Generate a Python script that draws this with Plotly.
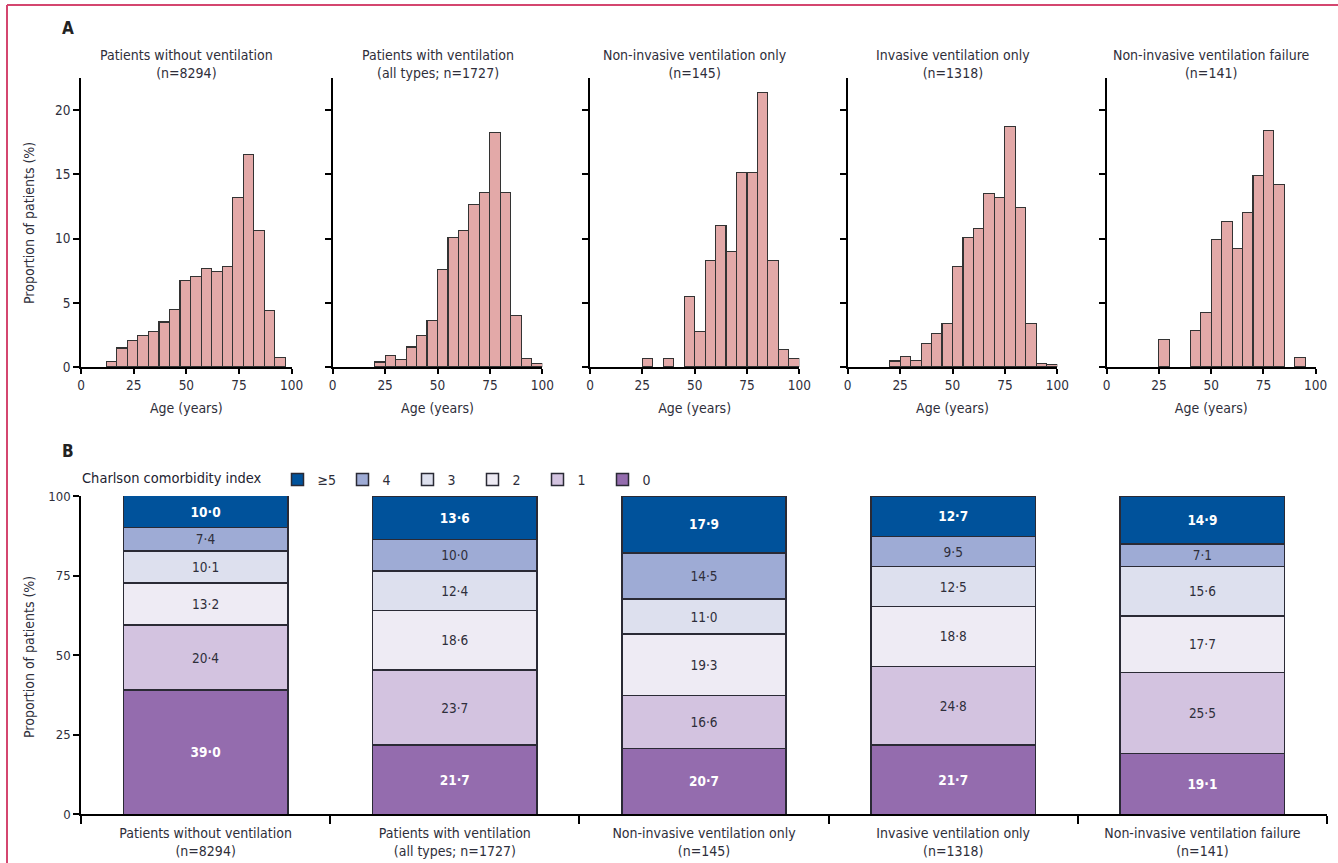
import plotly.graph_objects as go

W, H = 1338, 863
FONT = "Liberation Sans Narrow, DejaVu Sans Condensed, Arial Narrow, sans-serif"
TXT = "#2e2e3a"

# ---------------- Panel A data (age histograms, % of patients per 5-year bin) ----------------
panel_titles = [
    "Patients without ventilation<br>(n=8294)",
    "Patients with ventilation<br>(all types; n=1727)",
    "Non-invasive ventilation only<br>(n=145)",
    "Invasive ventilation only<br>(n=1318)",
    "Non-invasive ventilation failure<br>(n=141)",
]
bin_start_1 = [12, 17, 22, 27, 32, 37, 42, 47, 52, 57, 62, 67, 72, 77, 82, 87, 92]
pct_1 = [0.44, 1.48, 2.08, 2.47, 2.73, 3.5, 4.49, 6.75, 7.06, 7.69, 7.45, 7.84, 13.17, 16.55, 10.65, 4.39, 0.75]
bin_start_2 = [20, 25, 30, 35, 40, 45, 50, 55, 60, 65, 70, 75, 80, 85, 90, 95]
pct_2 = [0.39, 0.91, 0.57, 1.56, 2.47, 3.64, 7.58, 10.08, 10.65, 12.68, 13.58, 18.23, 13.58, 4.03, 0.65, 0.26]
bin_start_3 = [25, 35, 45, 50, 55, 60, 65, 70, 75, 80, 85, 90, 95]
pct_3 = [0.69, 0.69, 5.52, 2.76, 8.28, 11.03, 8.97, 15.17, 15.17, 21.38, 8.28, 1.38, 0.69]
bin_start_4 = [20, 25, 30, 35, 40, 45, 50, 55, 60, 65, 70, 75, 80, 85, 90, 95]
pct_4 = [0.47, 0.83, 0.52, 1.82, 2.6, 3.38, 7.84, 10.08, 10.78, 13.51, 13.19, 18.7, 12.42, 3.38, 0.26, 0.16]
bin_start_5 = [25, 40, 45, 50, 55, 60, 65, 70, 75, 80, 90]
pct_5 = [2.13, 2.84, 4.26, 9.93, 11.35, 9.22, 12.06, 14.89, 18.44, 14.18, 0.71]
age_ticks = [0, 25, 50, 75, 100]
pct_ticks_a = [0, 5, 10, 15, 20]

# ---------------- Panel B data (Charlson comorbidity index, % of patients) ----------------
groups = [
    "Patients without ventilation<br>(n=8294)",
    "Patients with ventilation<br>(all types; n=1727)",
    "Non-invasive ventilation only<br>(n=145)",
    "Invasive ventilation only<br>(n=1318)",
    "Non-invasive ventilation failure<br>(n=141)",
]
cci_0 = [39.0, 21.7, 20.7, 21.7, 19.1]
cci_1 = [20.4, 23.7, 16.6, 24.8, 25.5]
cci_2 = [13.2, 18.6, 19.3, 18.8, 17.7]
cci_3 = [10.1, 12.4, 11.0, 12.5, 15.6]
cci_4 = [7.4, 10.0, 14.5, 9.5, 7.1]
cci_5 = [10.0, 13.6, 17.9, 12.7, 14.9]
cci_names = ["0", "1", "2", "3", "4", "≥5"]
cci_colors = ["#946cae", "#d3c3e0", "#eeebf4", "#dde0ee", "#9eabd5", "#00529b"]
cci_text_colors = ["white", TXT, TXT, TXT, TXT, "white"]
pct_ticks_b = [0, 25, 50, 75, 100]

hist_pct = [pct_1, pct_2, pct_3, pct_4, pct_5]
hist_start = [bin_start_1, bin_start_2, bin_start_3, bin_start_4, bin_start_5]

# ---------------- layout geometry (pixels) ----------------
x0_px = [81, 332.7, 590, 847.7, 1106.7]
x100_px = [291.7, 542.3, 799.3, 1057.3, 1315.7]
yA_bot, yA_top = 367, 78
yB_bot, yB_top = 814.3, 496
xB_l, xB_r = 81, 1327

def px(v):
    return v / W

def py(v):
    return 1 - v / H

fig = go.Figure()
layout = dict(
    width=W, height=H,
    margin=dict(l=0, r=0, t=0, b=0),
    paper_bgcolor="white", plot_bgcolor="white",
    font=dict(family=FONT, size=13, color=TXT),
    barmode="stack",
    showlegend=True,
)

annotations = []
for i in range(5):
    xa = "x" if i == 0 else f"x{i+1}"
    ya = "y" if i == 0 else f"y{i+1}"
    fig.add_trace(go.Bar(
        x=hist_start[i], y=hist_pct[i], width=5, offset=0,
        marker=dict(color="#e3a9a8", line=dict(color="#333333", width=1.1)),
        xaxis=xa, yaxis=ya, showlegend=False, hoverinfo="x+y",
    ))
    kx = "xaxis" if i == 0 else f"xaxis{i+1}"
    ky = "yaxis" if i == 0 else f"yaxis{i+1}"
    layout[kx] = dict(
        domain=[px(x0_px[i]), px(x100_px[i])], range=[0, 100], anchor=ya,
        tickvals=age_ticks, ticks="outside", ticklen=5, tickwidth=1.5, tickcolor="black",
        showline=True, linecolor="black", linewidth=1.5, showgrid=False, zeroline=False,
        tickfont=dict(size=13.5, color=TXT), automargin=False,
        title=dict(text="Age (years)", font=dict(size=14, color=TXT), standoff=11),
    )
    layout[ky] = dict(
        domain=[py(yA_bot), py(yA_top)], range=[0, 22.5], anchor=xa,
        tickvals=pct_ticks_a, ticks="outside", ticklen=6, tickwidth=1.5, tickcolor="black",
        showline=True, linecolor="black", linewidth=1.5, showgrid=False, zeroline=False,
        showticklabels=(i == 0), tickfont=dict(size=13.5, color=TXT), automargin=False,
    )
    annotations.append(dict(
        text=panel_titles[i], xref="paper", yref="paper",
        x=px((x0_px[i] + x100_px[i]) / 2), y=py(83), xanchor="center", yanchor="bottom",
        showarrow=False, font=dict(size=14, color=TXT),
    ))

# Panel B stacked bars
series = [cci_0, cci_1, cci_2, cci_3, cci_4, cci_5]
for k, vals in enumerate(series):
    fig.add_trace(go.Bar(
        x=groups, y=vals, name=cci_names[k], width=0.66,
        marker=dict(color=cci_colors[k], line=dict(color="#2a2a35", width=1.5)),
        text=[f"{v:.1f}".replace(".", "·") for v in vals],
        textposition="inside", insidetextanchor="middle", textangle=0,
        textfont=dict(size=13.5, color=cci_text_colors[k], family=FONT,
                      weight="bold" if cci_text_colors[k] == "white" else "normal"),
        xaxis="x6", yaxis="y6",
    ))

layout["xaxis6"] = dict(
    domain=[px(xB_l), px(xB_r)], range=[-0.5, 4.5], anchor="y6", type="category",
    tickson="boundaries", ticks="outside", ticklen=8, tickwidth=1.5, tickcolor="black",
    showline=True, linecolor="black", linewidth=1.5, showgrid=False,
    tickfont=dict(size=14, color=TXT), automargin=False, ticklabelstandoff=5,
)
layout["yaxis6"] = dict(
    domain=[py(yB_bot), py(yB_top)], range=[0, 100], anchor="x6",
    tickvals=pct_ticks_b, ticks="outside", ticklen=6, tickwidth=1.5, tickcolor="black",
    showline=True, linecolor="black", linewidth=1.5, showgrid=False, zeroline=False,
    tickfont=dict(size=13, color=TXT), automargin=False,
)

layout["legend"] = dict(
    orientation="h", x=px(80), y=py(464), xanchor="left", yanchor="top",
    traceorder="reversed", entrywidth=20, entrywidthmode="pixels",
    title=dict(text="Charlson comorbidity index\u00a0\u00a0", side="left",
               font=dict(size=14.5, color="#222230")),
    font=dict(size=14, color=TXT), bgcolor="rgba(0,0,0,0)", itemclick=False,
)

# y-axis titles and panel letters
annotations += [
    dict(text="Proportion of patients (%)", xref="paper", yref="paper", x=px(29), y=py(223),
         textangle=-90, showarrow=False, font=dict(size=14, color=TXT), xanchor="center", yanchor="middle"),
    dict(text="Proportion of patients (%)", xref="paper", yref="paper", x=px(29), y=py(657),
         textangle=-90, showarrow=False, font=dict(size=14, color=TXT), xanchor="center", yanchor="middle"),
    dict(text="<b>A</b>", xref="paper", yref="paper", x=px(60), y=py(28), showarrow=False,
         font=dict(size=17, color="#222"), xanchor="left", yanchor="middle"),
    dict(text="<b>B</b>", xref="paper", yref="paper", x=px(60), y=py(451), showarrow=False,
         font=dict(size=17, color="#222"), xanchor="left", yanchor="middle"),
]
layout["annotations"] = annotations

# pink frame
layout["shapes"] = [
    dict(type="line", xref="paper", yref="paper", x0=px(7), x1=1.01, y0=py(5), y1=py(5),
         line=dict(color="#d4466f", width=2)),
    dict(type="line", xref="paper", yref="paper", x0=px(7), x1=px(7), y0=py(5), y1=-0.01,
         line=dict(color="#d4466f", width=2)),
]

fig.update_layout(**layout)
fig.write_html("out.html", config={"displayModeBar": False},
               post_script="document.body.style.margin='0px';document.body.style.overflow='hidden';")
